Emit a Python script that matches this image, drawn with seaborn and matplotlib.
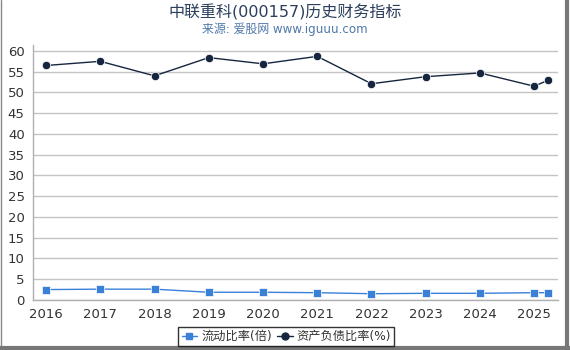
import matplotlib.pyplot as plt
import seaborn as sns
import pandas as pd
from matplotlib.lines import Line2D

sns.set_style("white")
plt.rcParams['font.family'] = ['DejaVu Sans', 'Noto Sans CJK SC']

# x positions in years (last point = 2025 Q1)
periods = [2016, 2017, 2018, 2019, 2020, 2021, 2022, 2023, 2024, 2025, 2025.25]
current_ratio = [2.5, 2.6, 2.6, 1.85, 1.85, 1.75, 1.5, 1.6, 1.6, 1.75, 1.75]
debt_ratio = [56.5, 57.5, 54.0, 58.4, 56.9, 58.7, 52.1, 53.8, 54.7, 51.5, 52.9]
year_ticks = [2016, 2017, 2018, 2019, 2020, 2021, 2022, 2023, 2024, 2025]

df = pd.DataFrame({
    'period': periods * 2,
    'value': current_ratio + debt_ratio,
    'series': ['流动比率(倍)'] * len(periods) + ['资产负债比率(%)'] * len(periods),
})

fig = plt.figure(figsize=(5.7, 3.5), dpi=100)
ax = fig.add_axes([0.058, 0.143, 0.921, 0.728])

palette = {'流动比率(倍)': '#3a80d8', '资产负债比率(%)': '#16263f'}
markers = {'流动比率(倍)': 's', '资产负债比率(%)': 'o'}
sns.lineplot(data=df, x='period', y='value', hue='series', style='series',
             palette=palette, markers=markers, dashes=False, ax=ax,
             linewidth=1, markersize=6, markeredgewidth=0.5, legend=False)

ax.set_xlim(2015.76, 2025.44)
ax.set_ylim(0, 61.4)
ax.set_yticks(range(0, 61, 5))
ax.set_xticks(year_ticks)
ax.set_xticklabels([str(y) for y in year_ticks])
ax.yaxis.grid(True, color='#c4c4c4', linewidth=1)
ax.set_xlabel('')
ax.set_ylabel('')
for s in ['top', 'right']:
    ax.spines[s].set_visible(False)
for s in ['left', 'bottom']:
    ax.spines[s].set_color('#b0b0b0')
    ax.spines[s].set_linewidth(1)
ax.tick_params(axis='both', labelsize=9.5, colors='#333333', length=4,
               color='#b0b0b0', width=1, pad=2)

fig.text(0.5, 0.965, '中联重科(000157)历史财务指标', ha='center', va='center',
         fontsize=11.5, color='#2b3f5c')
fig.text(0.5, 0.916, '来源: 爱股网 www.iguuu.com', ha='center', va='center',
         fontsize=8.6, color='#5078a8')

handles = [Line2D([], [], color=palette[k], marker=markers[k], markersize=5, linewidth=1)
           for k in palette]
leg = fig.legend(handles, list(palette.keys()), loc='center', bbox_to_anchor=(0.502, 0.038),
                 ncol=2, frameon=True, fontsize=8.8, handlelength=1.3, handletextpad=0.3,
                 columnspacing=0.4, borderpad=0.25, borderaxespad=0.2, fancybox=False)
leg.get_frame().set_edgecolor('black')
leg.get_frame().set_linewidth(1)
for t in leg.get_texts():
    t.set_color('#333333')

# figure border
fig.add_artist(Line2D([0.001, 0.001], [0, 1], color='#888888', linewidth=1, transform=fig.transFigure))
fig.add_artist(Line2D([0.995, 0.995], [0, 1], color='#777777', linewidth=3, transform=fig.transFigure))
fig.add_artist(Line2D([0, 1], [0.006, 0.006], color='#777777', linewidth=3, transform=fig.transFigure))

fig.savefig('out.png', dpi=100)
plt.close()
